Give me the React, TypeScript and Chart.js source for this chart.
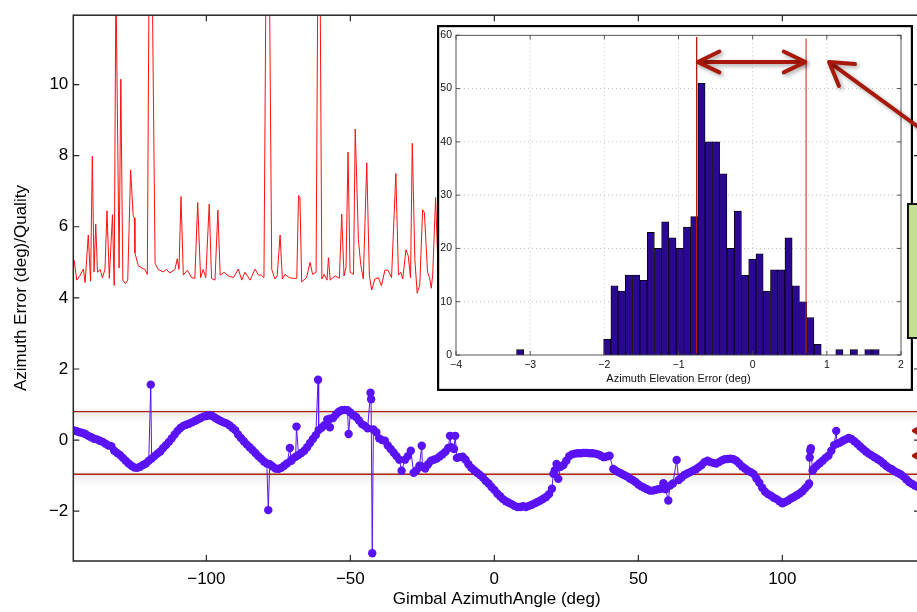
import React, { useEffect, useRef } from "react";
import { Chart, registerables } from "chart.js";

Chart.register(...registerables);

// ---------- DATA ----------
// Red series: Quality vs gimbal azimuth angle (deg)
const redX = [
  -145.9, -145.0, -143.8, -142.7, -142.1, -141.0, -140.2, -139.6, -139.0, -138.4,
  -137.8, -136.9, -136.1, -135.2, -134.5, -133.7, -132.6, -132.0, -131.4, -130.3,
  -129.7, -129.0, -128.1, -127.3, -126.3, -125.4, -125.0, -124.8, -123.6, -122.4,
  -121.3, -120.5, -119.9, -118.8, -117.8, -116.7, -115.0, -113.8, -112.7, -110.9,
  -110.1, -109.5, -108.8, -108.0, -106.6, -105.1, -104.0, -103.0, -102.0, -101.1,
  -100.2, -99.0, -98.2, -97.0, -96.0, -95.2, -93.8, -92.4, -90.6, -88.9,
  -87.7, -86.6, -84.8, -83.1, -81.9, -80.9, -80.0, -79.3, -78.1, -77.3,
  -76.2, -75.4, -74.4, -73.6, -72.7, -71.2, -69.8, -68.6, -68.0, -67.5,
  -66.9, -65.2, -64.0, -63.1, -61.9, -61.3, -60.5, -59.9, -59.1, -58.1,
  -57.6, -57.0, -55.3, -53.8, -53.0, -52.2, -51.5, -50.8, -50.1, -48.9,
  -48.3, -47.2, -46.4, -45.5, -44.3, -43.4, -42.6, -41.5, -40.3, -39.2,
  -38.0, -36.9, -35.7, -34.2, -33.3, -32.5, -31.8, -30.7, -29.9, -29.1,
  -28.5, -27.6, -26.8, -25.9, -24.9, -24.3, -23.2, -22.5, -21.9, -21.4,
  -20.4, -19.5,
];
const redY = [
  5.06, 4.5, 4.64, 4.81, 4.43, 5.77, 4.47, 7.99, 4.73, 6.08,
  4.72, 4.8, 4.57, 4.8, 6.45, 4.55, 6.34, 4.35, 13, 4.84,
  10.15, 4.5, 4.4, 4.5, 7.6, 6.3, 6.25, 5.26, 4.9, 4.84,
  4.8, 4.66, 13, 13, 4.97, 4.8, 4.73, 4.8, 4.7, 4.8,
  5.1, 4.8, 6.85, 4.64, 4.78, 4.57, 4.55, 6.68, 4.57, 4.8,
  4.57, 6.64, 4.55, 4.5, 6.47, 4.64, 4.72, 4.62, 4.57, 4.81,
  4.5, 4.72, 4.5, 4.81, 4.64, 4.64, 4.57, 13, 13, 4.8,
  4.53, 4.62, 5.77, 4.53, 4.66, 4.57, 4.55, 4.55, 6.88, 6.82,
  4.45, 4.57, 5.0, 4.66, 4.72, 13, 13, 4.53, 4.66, 4.5,
  5.13, 4.5, 4.62, 4.55, 6.36, 4.62, 4.86, 8.1, 4.72, 4.66,
  8.75, 5.64, 4.94, 4.53, 7.8, 4.64, 4.22, 4.53, 4.57, 4.34,
  4.78, 4.78, 4.57, 7.5, 4.64, 4.72, 4.53, 5.35, 5.18, 4.57,
  8.35, 5.08, 4.13, 4.36, 6.48, 6.4, 4.72, 4.57, 4.27, 4.66,
  6.82, 4.7,
];

// Blue series: azimuth error (deg) vs gimbal azimuth angle (deg)
const blueX = [
  -146, -145, -144, -143, -142, -141, -140, -139, -138, -137,
  -136, -135, -134, -133, -132, -131, -130, -129, -128, -127,
  -126, -125, -124, -123, -122, -121, -120, -119.3, -119, -118,
  -117, -116, -115, -114, -113, -112, -111, -110, -109, -108,
  -107, -106, -105, -104, -103, -102, -101, -100, -99, -98,
  -97, -96, -95, -94, -93, -92, -91, -90, -89, -88,
  -87, -86, -85, -84, -83, -82, -81, -80, -79, -78.5,
  -78, -77, -76, -75, -74, -73, -72, -71, -70.5, -70,
  -69, -68.7, -68, -67, -66, -65, -64, -63, -62, -61.2,
  -61, -60, -59, -58, -57.1, -57, -56, -55, -54, -53,
  -52, -51, -50.6, -50, -49, -48, -47, -46, -45, -44,
  -43, -42.8, -42.4, -42, -41, -40, -39, -38, -37, -36,
  -35, -34, -33, -32.2, -31, -30, -29, -28, -27, -26,
  -25.2, -25, -24, -23, -22, -21, -20, -19, -18, -17,
  -16, -15.4, -15, -14, -13.6, -13, -12, -11, -10, -9,
  -8, -7, -6, -5, -4, -3, -2, -1, 0, 1,
  2, 3, 4, 5, 6, 7, 8, 9, 10, 11,
  12, 13, 14, 15, 16, 17, 18, 19, 20, 20.5,
  21, 21.6, 22.2, 23, 24, 25, 26, 27, 28, 29,
  30, 31, 32, 33, 34, 35, 36, 37, 38, 39,
  40, 41.3, 42, 43, 44, 45, 46, 47, 48, 49,
  50, 51, 52, 53, 54, 55, 56, 57, 58, 58.7,
  59.5, 60.4, 61, 62, 63.3, 64, 65, 66, 67, 68,
  69, 70, 71, 72, 73, 74, 75, 76, 77, 78,
  79, 80, 81, 82, 83, 84, 85, 86, 87, 88,
  89, 90, 91, 92, 93, 94, 95, 96, 97, 98,
  99, 100, 101, 102, 103, 104, 105, 106, 107, 108,
  109, 109.3, 109.5, 109.7, 109.9, 110.5, 111, 112, 113, 114,
  115, 116, 117, 118, 118.7, 119, 120, 121, 122, 123,
  124, 125, 126, 127, 128, 129, 130, 131, 132, 133,
  134, 135, 136, 137, 138, 139, 140, 141, 142, 143,
  144, 145, 146, 147, 148,
];
const blueY = [
  0.27, 0.25, 0.22, 0.2, 0.17, 0.12, 0.08, 0.04, 0.02, -0.02,
  -0.05, -0.1, -0.15, -0.17, -0.3, -0.36, -0.42, -0.5, -0.58, -0.66,
  -0.72, -0.77, -0.78, -0.75, -0.7, -0.66, -0.58, 1.56, -0.52, -0.45,
  -0.38, -0.32, -0.22, -0.14, -0.05, 0.05, 0.16, 0.26, 0.34, 0.4,
  0.43, 0.46, 0.5, 0.54, 0.58, 0.62, 0.66, 0.68, 0.7, 0.68,
  0.63, 0.58, 0.54, 0.5, 0.47, 0.42, 0.35, 0.28, 0.16, 0.06,
  -0.03, -0.12, -0.2, -0.28, -0.36, -0.45, -0.52, -0.6, -0.66, -1.97,
  -0.68, -0.74, -0.8, -0.81, -0.78, -0.72, -0.66, -0.22, -0.58, -0.52,
  -0.47, 0.38, -0.42, -0.36, -0.3, -0.2, -0.08, 0.03, 0.14, 1.7,
  0.28, 0.35, 0.42, 0.58, 0.36, 0.6, 0.62, 0.72, 0.8, 0.84,
  0.85, 0.84, 0.17, 0.78, 0.7, 0.65, 0.55, 0.45, 0.4, 0.33,
  1.33, 1.15, -3.18, 0.3, 0.22, 0.05, 0.0, -0.02, -0.15, -0.25,
  -0.35, -0.45, -0.55, -0.86, -0.55, -0.45, -0.3, -0.92, -0.85, -0.72,
  -0.16, -0.75, -0.8, -0.68, -0.58, -0.55, -0.52, -0.46, -0.4, -0.33,
  -0.22, 0.12, -0.2, -0.25, 0.12, -0.5, -0.48, -0.47, -0.55, -0.68,
  -0.78, -0.85, -0.92, -0.98, -1.05, -1.15, -1.22, -1.32, -1.4, -1.5,
  -1.58, -1.66, -1.72, -1.76, -1.8, -1.85, -1.88, -1.88, -1.86, -1.88,
  -1.85, -1.82, -1.78, -1.74, -1.7, -1.65, -1.6, -1.52, -1.37, -0.95,
  -0.85, -0.67, -1.09, -0.75, -0.7, -0.58, -0.45, -0.4, -0.38, -0.37,
  -0.37, -0.36, -0.36, -0.37, -0.37, -0.38, -0.4, -0.44, -0.48, -0.46,
  -0.44, -0.81, -0.85, -0.9, -0.94, -0.98, -1.02, -1.08, -1.12, -1.18,
  -1.25, -1.3, -1.34, -1.38, -1.42, -1.42, -1.4, -1.38, -1.36, -1.21,
  -1.38, -1.7, -1.28, -1.22, -0.56, -1.12, -1.05, -0.98, -0.94, -0.9,
  -0.86, -0.82, -0.76, -0.7, -0.62, -0.58, -0.62, -0.64, -0.66, -0.62,
  -0.57, -0.54, -0.53, -0.52, -0.54, -0.58, -0.66, -0.74, -0.8, -0.86,
  -0.9, -0.95, -1.08, -1.2, -1.34, -1.45, -1.52, -1.56, -1.62, -1.66,
  -1.72, -1.78, -1.74, -1.7, -1.64, -1.6, -1.55, -1.5, -1.44, -1.35,
  -1.26, -1.22, -0.49, -0.3, -0.23, -0.86, -0.8, -0.72, -0.65, -0.58,
  -0.5, -0.44, -0.3, -0.14, 0.26, -0.1, -0.07, -0.02, 0.02, 0.06,
  0.03, -0.03, -0.1, -0.18, -0.25, -0.32, -0.38, -0.43, -0.48, -0.53,
  -0.58, -0.65, -0.72, -0.78, -0.82, -0.88, -0.92, -0.96, -1.02, -1.1,
  -1.18, -1.23, -1.28, -1.31, -1.33,
];

// Inset histogram: bin centers (deg) and counts
const histCenters = [
  -3.135, -1.961, -1.863, -1.766, -1.668, -1.57, -1.472, -1.374, -1.276, -1.179,
  -1.081, -0.983, -0.885, -0.787, -0.69, -0.592, -0.494, -0.396, -0.298, -0.2,
  -0.103, -0.005, 0.093, 0.191, 0.289, 0.386, 0.484, 0.582, 0.68, 0.778,
  0.876, 1.169, 1.365, 1.56, 1.658,
];
const histCounts = [
  1, 3, 13, 12, 15, 15, 14, 23, 20, 25,
  22, 20, 24, 26, 51, 40, 40, 34, 20, 27,
  15, 18, 19, 12, 16, 16, 22, 13, 10, 7,
  2, 1, 1, 1, 1,
];

// Tick values
const mainXTicks = [-100, -50, 0, 50, 100];
const mainYTicks = [-2, 0, 2, 4, 6, 8, 10];
const insetXTicks = [-4, -3, -2, -1, 0, 1, 2];
const insetYTicks = [0, 10, 20, 30, 40, 50, 60];

// Annotation values
const bandLevels = [0.8, -0.96]; // horizontal red lines (main chart, y)
const edgeArrowLevels = [0.26, -0.44]; // arrow tips at right edge (main chart, y)
const edgeArrowX = 145.7;
const insetMarkers = [-0.755, 0.72]; // red vertical lines (inset, x)
const insetMarkerTop = [59.7, 59.4];
const spanArrow = { x1: -0.74, x2: 0.71, y: 55 };
const pointerArrow = { fromX: 2.4, fromY: 41.1, toX: 1.03, toY: 55 };

// ---------- STYLE ----------
const FONT = "'Liberation Sans', Arial, Helvetica, sans-serif";
const BLUE = "#5a12f6";
const ARROW_RED = "#a8190b";
const minus = (v: any) => String(v).replace("-", "\u2212");

function chevron(ctx: CanvasRenderingContext2D, tx: number, ty: number, bx: number, by: number, len: number, ang: number) {
  const a = Math.atan2(by - ty, bx - tx);
  ctx.beginPath();
  ctx.moveTo(tx + len * Math.cos(a + ang), ty + len * Math.sin(a + ang));
  ctx.lineTo(tx, ty);
  ctx.lineTo(tx + len * Math.cos(a - ang), ty + len * Math.sin(a - ang));
  ctx.stroke();
}

const mainDecor = {
  id: "mainDecor",
  beforeDatasetsDraw(chart: any) {
    const { ctx, chartArea, scales } = chart;
    ctx.save();
    for (const lv of bandLevels) {
      const y = scales.y.getPixelForValue(lv);
      const g = ctx.createLinearGradient(0, y - 4, 0, y + 12);
      g.addColorStop(0, "rgba(0,0,0,0)");
      g.addColorStop(0.25, "rgba(0,0,0,0.08)");
      g.addColorStop(1, "rgba(0,0,0,0)");
      ctx.fillStyle = g;
      ctx.fillRect(chartArea.left, y - 4, chartArea.right - chartArea.left, 16);
      ctx.strokeStyle = "rgb(178,32,18)";
      ctx.lineWidth = 1.3;
      ctx.beginPath();
      ctx.moveTo(chartArea.left, y);
      ctx.lineTo(chartArea.right, y);
      ctx.stroke();
    }
    ctx.restore();
  },
  afterDraw(chart: any) {
    const { ctx, chartArea, scales } = chart;
    const { left, right, top, bottom } = chartArea;
    ctx.save();
    ctx.strokeStyle = "#262626";
    ctx.lineWidth = 1.5;
    ctx.strokeRect(left, top, right - left, bottom - top);
    ctx.lineWidth = 1.2;
    ctx.beginPath();
    for (const v of mainXTicks) {
      const x = scales.x.getPixelForValue(v);
      ctx.moveTo(x, bottom);
      ctx.lineTo(x, bottom - 6);
      ctx.moveTo(x, top);
      ctx.lineTo(x, top + 6);
    }
    for (const v of mainYTicks) {
      const y = scales.y.getPixelForValue(v);
      ctx.moveTo(left, y);
      ctx.lineTo(left + 6, y);
      ctx.moveTo(right, y);
      ctx.lineTo(right - 6, y);
    }
    ctx.stroke();
    // arrow tips at right edge
    ctx.strokeStyle = ARROW_RED;
    ctx.lineWidth = 4;
    ctx.lineCap = "round";
    ctx.lineJoin = "round";
    for (const lv of edgeArrowLevels) {
      const tx = scales.x.getPixelForValue(edgeArrowX);
      const ty = scales.y.getPixelForValue(lv);
      chevron(ctx, tx, ty, tx + 20, ty, 14, 0.5);
    }
    ctx.restore();
  },
};

const insetDecor = {
  id: "insetDecor",
  beforeDraw(chart: any) {
    const { ctx } = chart;
    ctx.save();
    ctx.fillStyle = "#ffffff";
    ctx.fillRect(0, 0, 476, chart.height);
    ctx.strokeStyle = "#000";
    ctx.lineWidth = 2.2;
    ctx.strokeRect(1.1, 1.1, 476 - 2.2, chart.height - 2.2);
    ctx.restore();
  },
  beforeDatasetsDraw(chart: any) {
    const { ctx, chartArea, scales } = chart;
    const { left, right, top, bottom } = chartArea;
    ctx.save();
    ctx.strokeStyle = "#b0b0b0";
    ctx.lineWidth = 0.8;
    ctx.setLineDash([1, 3]);
    ctx.beginPath();
    for (const v of insetXTicks.slice(1, -1)) {
      const x = scales.x.getPixelForValue(v);
      ctx.moveTo(x, top);
      ctx.lineTo(x, bottom);
    }
    for (const v of insetYTicks.slice(1, -1)) {
      const y = scales.y.getPixelForValue(v);
      ctx.moveTo(left, y);
      ctx.lineTo(right, y);
    }
    ctx.stroke();
    ctx.restore();
  },
  afterDatasetsDraw(chart: any) {
    const { ctx, chartArea, scales } = chart;
    const { left, right, top, bottom } = chartArea;
    const sx = scales.x, sy = scales.y;
    ctx.save();
    ctx.strokeStyle = "#444";
    ctx.lineWidth = 0.9;
    ctx.strokeRect(left, top, right - left, bottom - top);
    ctx.beginPath();
    for (const v of insetXTicks) {
      const x = sx.getPixelForValue(v);
      ctx.moveTo(x, bottom);
      ctx.lineTo(x, bottom - 4);
      ctx.moveTo(x, top);
      ctx.lineTo(x, top + 4);
    }
    for (const v of insetYTicks) {
      const y = sy.getPixelForValue(v);
      ctx.moveTo(left, y);
      ctx.lineTo(left + 4, y);
      ctx.moveTo(right, y);
      ctx.lineTo(right - 4, y);
    }
    ctx.stroke();

    // red vertical marker lines
    insetMarkers.forEach((m, i) => {
      const x = sx.getPixelForValue(m);
      ctx.strokeStyle = i === 0 ? "rgb(185,25,10)" : "rgba(200,40,30,0.8)";
      ctx.lineWidth = 1.3;
      ctx.beginPath();
      ctx.moveTo(x, sy.getPixelForValue(insetMarkerTop[i]));
      ctx.lineTo(x, sy.getPixelForValue(0.3));
      ctx.stroke();
    });

    // arrows with shadow
    ctx.shadowColor = "rgba(0,0,0,0.35)";
    ctx.shadowBlur = 4;
    ctx.shadowOffsetX = 2;
    ctx.shadowOffsetY = 2;
    ctx.strokeStyle = ARROW_RED;
    ctx.lineWidth = 4;
    ctx.lineCap = "round";
    ctx.lineJoin = "round";
    const ax1 = sx.getPixelForValue(spanArrow.x1);
    const ax2 = sx.getPixelForValue(spanArrow.x2);
    const ay = sy.getPixelForValue(spanArrow.y);
    ctx.beginPath();
    ctx.moveTo(ax1 + 2, ay);
    ctx.lineTo(ax2 - 2, ay);
    ctx.stroke();
    chevron(ctx, ax1, ay, ax2, ay, 24, 0.45);
    chevron(ctx, ax2, ay, ax1, ay, 24, 0.45);

    const px1 = sx.getPixelForValue(pointerArrow.fromX);
    const py1 = sy.getPixelForValue(pointerArrow.fromY);
    const px2 = sx.getPixelForValue(pointerArrow.toX);
    const py2 = sy.getPixelForValue(pointerArrow.toY);
    ctx.beginPath();
    ctx.moveTo(px1, py1);
    ctx.lineTo(px2 + 2, py2 + 1.5);
    ctx.stroke();
    chevron(ctx, px2, py2, px1, py1, 26, 0.55);
    ctx.restore();
  },
};

export default function App() {
  const mainRef = useRef<HTMLCanvasElement>(null);
  const insetRef = useRef<HTMLCanvasElement>(null);

  useEffect(() => {
    const main = new Chart(mainRef.current as HTMLCanvasElement, {
      type: "line",
      data: {
        datasets: [
          {
            label: "Quality",
            data: redX.map((x, i) => ({ x, y: redY[i] })),
            borderColor: "#ff1010",
            borderWidth: 1,
            pointRadius: 0,
            tension: 0,
          },
          {
            label: "Azimuth Error",
            data: blueX.map((x, i) => ({ x, y: blueY[i] })),
            borderColor: BLUE,
            backgroundColor: BLUE,
            borderWidth: 1,
            pointRadius: 4.2,
            pointBorderWidth: 0,
            pointBackgroundColor: BLUE,
            tension: 0,
          },
        ],
      },
      options: {
        animation: false,
        responsive: false,
        devicePixelRatio: 1,
        layout: { padding: { top: 11.7, right: 5, left: 0, bottom: 0 } },
        plugins: { legend: { display: false }, tooltip: { enabled: false } },
        scales: {
          x: {
            type: "linear",
            min: -146.2,
            max: 147.8,
            grid: { display: false, drawTicks: false },
            border: { display: false },
            afterBuildTicks: (s: any) => {
              s.ticks = mainXTicks.map((v) => ({ value: v }));
            },
            afterFit: (s: any) => {
              s.height = 51;
            },
            ticks: {
              font: { family: FONT, size: 17 },
              color: "#000",
              padding: 8,
              autoSkip: false,
              maxRotation: 0,
              callback: (v: any) => minus(v),
            },
            title: {
              display: true,
              text: "Gimbal AzimuthAngle (deg)",
              font: { family: FONT, size: 17 },
              color: "#000",
              padding: { top: 0, bottom: 2 },
            },
          },
          y: {
            type: "linear",
            min: -3.4,
            max: 11.95,
            grid: { display: false, drawTicks: false },
            border: { display: false },
            afterBuildTicks: (s: any) => {
              s.ticks = mainYTicks.map((v) => ({ value: v }));
            },
            afterFit: (s: any) => {
              s.width = 73.3;
            },
            ticks: {
              font: { family: FONT, size: 17 },
              color: "#000",
              padding: 5,
              autoSkip: false,
              callback: (v: any) => minus(v),
            },
            title: {
              display: true,
              text: "Azimuth Error (deg)/Quality",
              font: { family: FONT, size: 17 },
              color: "#000",
              padding: { top: 11, bottom: 0 },
            },
          },
        },
      },
      plugins: [mainDecor],
    } as any);

    const inset = new Chart(insetRef.current as HTMLCanvasElement, {
      type: "bar",
      data: {
        datasets: [
          {
            label: "Count",
            data: histCenters.map((x, i) => ({ x, y: histCounts[i] })),
            backgroundColor: "#2b0890",
            borderColor: "#000",
            borderWidth: 0.8,
            barPercentage: 1,
            categoryPercentage: 1,
          },
        ],
      },
      options: {
        animation: false,
        responsive: false,
        devicePixelRatio: 1,
        layout: { padding: { top: 10, right: 24, left: 0, bottom: 0 } },
        plugins: { legend: { display: false }, tooltip: { enabled: false } },
        scales: {
          x: {
            type: "linear",
            min: -4,
            max: 2,
            offset: false,
            grid: { display: false, drawTicks: false },
            border: { display: false },
            afterBuildTicks: (s: any) => {
              s.ticks = insetXTicks.map((v) => ({ value: v }));
            },
            afterFit: (s: any) => {
              s.height = 36;
            },
            ticks: {
              font: { family: FONT, size: 10.5 },
              color: "#111",
              padding: 3.5,
              autoSkip: false,
              maxRotation: 0,
              callback: (v: any) => minus(v),
            },
            title: {
              display: true,
              text: "Azimuth Elevation Error (deg)",
              font: { family: FONT, size: 11 },
              color: "#111",
              padding: { top: 0, bottom: 5.4 },
            },
          },
          y: {
            type: "linear",
            min: 0,
            max: 60,
            grid: { display: false, drawTicks: false },
            border: { display: false },
            afterBuildTicks: (s: any) => {
              s.ticks = insetYTicks.map((v) => ({ value: v }));
            },
            afterFit: (s: any) => {
              s.width = 19;
            },
            ticks: {
              font: { family: FONT, size: 10.5 },
              color: "#111",
              padding: 4,
              autoSkip: false,
            },
          },
        },
      },
      plugins: [insetDecor],
    } as any);

    return () => {
      main.destroy();
      inset.destroy();
    };
  }, []);

  return (
    <div
      style={{
        position: "fixed",
        left: 0,
        top: 0,
        width: 917,
        height: 612,
        overflow: "hidden",
        background: "#fff",
      }}
    >
      <canvas
        ref={mainRef}
        width={925}
        height={612}
        style={{ position: "absolute", left: 0, top: 0, width: 925, height: 612 }}
      />
      <canvas
        ref={insetRef}
        width={488}
        height={366}
        style={{ position: "absolute", left: 437, top: 25, width: 488, height: 366 }}
      />
      <div
        style={{
          position: "absolute",
          left: 907,
          top: 203,
          width: 20,
          height: 136,
          boxSizing: "border-box",
          background: "#c2df92",
          border: "2px solid #111",
        }}
      />
    </div>
  );
}
